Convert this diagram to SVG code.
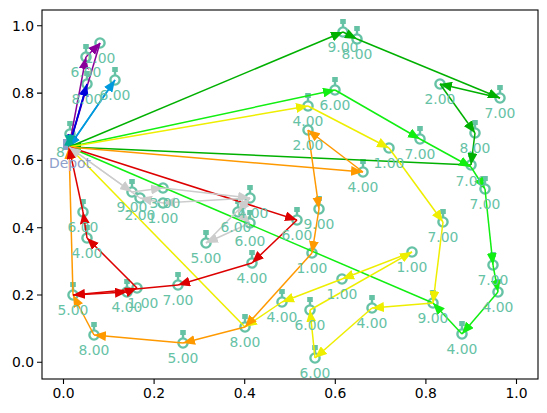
<svg xmlns="http://www.w3.org/2000/svg" width="547" height="413" viewBox="0 0 547 413">
<style>
text{font-family:"DejaVu Sans",sans-serif;font-size:13.9px}
.lb{fill:#66c2a5;text-anchor:middle}
.tk{fill:#000}
.ax{stroke:#000;stroke-width:1.1;fill:none}
.c{fill:none;stroke-width:1.5}
</style>
<defs>
<g id="nd0"><circle r="4.6" fill="none" stroke="#66c2a5" stroke-width="2.4"/></g>
<g id="nd"><circle r="4.6" fill="none" stroke="#66c2a5" stroke-width="2.4"/><rect x="-2.8" y="-13" width="5.6" height="5" fill="#66c2a5"/><rect x="-1.2" y="-9" width="2.4" height="4" fill="#66c2a5"/></g>
<marker id="mP" viewBox="0 0 12 10" refX="12" refY="5" markerWidth="12" markerHeight="10" markerUnits="userSpaceOnUse" orient="auto"><path d="M0,0L12,5L0,10z" fill="#880099"/></marker>
<marker id="mB" viewBox="0 0 12 10" refX="12" refY="5" markerWidth="12" markerHeight="10" markerUnits="userSpaceOnUse" orient="auto"><path d="M0,0L12,5L0,10z" fill="#0000dd"/></marker>
<marker id="mL" viewBox="0 0 12 10" refX="12" refY="5" markerWidth="12" markerHeight="10" markerUnits="userSpaceOnUse" orient="auto"><path d="M0,0L12,5L0,10z" fill="#0099dd"/></marker>
<marker id="mT" viewBox="0 0 12 10" refX="12" refY="5" markerWidth="12" markerHeight="10" markerUnits="userSpaceOnUse" orient="auto"><path d="M0,0L12,5L0,10z" fill="#00aa99"/></marker>
<marker id="mG" viewBox="0 0 12 10" refX="12" refY="5" markerWidth="12" markerHeight="10" markerUnits="userSpaceOnUse" orient="auto"><path d="M0,0L12,5L0,10z" fill="#00b000"/></marker>
<marker id="mH" viewBox="0 0 12 10" refX="12" refY="5" markerWidth="12" markerHeight="10" markerUnits="userSpaceOnUse" orient="auto"><path d="M0,0L12,5L0,10z" fill="#11ee11"/></marker>
<marker id="mY" viewBox="0 0 12 10" refX="12" refY="5" markerWidth="12" markerHeight="10" markerUnits="userSpaceOnUse" orient="auto"><path d="M0,0L12,5L0,10z" fill="#eeee00"/></marker>
<marker id="mO" viewBox="0 0 12 10" refX="12" refY="5" markerWidth="12" markerHeight="10" markerUnits="userSpaceOnUse" orient="auto"><path d="M0,0L12,5L0,10z" fill="#ff9900"/></marker>
<marker id="mR" viewBox="0 0 12 10" refX="12" refY="5" markerWidth="12" markerHeight="10" markerUnits="userSpaceOnUse" orient="auto"><path d="M0,0L12,5L0,10z" fill="#dd0000"/></marker>
<marker id="mS" viewBox="0 0 12 10" refX="12" refY="5" markerWidth="12" markerHeight="10" markerUnits="userSpaceOnUse" orient="auto"><path d="M0,0L12,5L0,10z" fill="#cccccc"/></marker>
</defs>
<rect width="547" height="413" fill="#fff"/>
<g id="axes">
<rect class="ax" x="42" y="10" width="496" height="369"/>
<g class="ax"><path d="M63.5,379v5M154.1,379v5M244.7,379v5M335.3,379v5M425.9,379v5M516.5,379v5M42,362.3h-5M42,295h-5M42,227.7h-5M42,160.4h-5M42,93.1h-5M42,25.8h-5"/></g>
<g class="tk" text-anchor="middle"><text x="63.5" y="398">0.0</text><text x="154.1" y="398">0.2</text><text x="244.7" y="398">0.4</text><text x="335.3" y="398">0.6</text><text x="425.9" y="398">0.8</text><text x="516.5" y="398">1.0</text></g>
<g class="tk" text-anchor="end"><text x="34" y="367.3">0.0</text><text x="34" y="300">0.2</text><text x="34" y="232.7">0.4</text><text x="34" y="165.4">0.6</text><text x="34" y="98.1">0.8</text><text x="34" y="30.8">1.0</text></g>
</g>
<g id="nodes">
<g id="n-A"><use href="#nd" x="86" y="57"/></g>
<g id="n-B"><use href="#nd0" x="100" y="43"/></g>
<g id="n-C"><use href="#nd" x="87" y="84"/></g>
<g id="n-D"><use href="#nd" x="115" y="80"/></g>
<g id="n-E"><use href="#nd" x="70" y="134"/></g>
<g id="n-F"><use href="#nd" x="343" y="32"/></g>
<g id="n-G"><use href="#nd" x="357" y="39"/></g>
<g id="n-H"><use href="#nd" x="500" y="98"/></g>
<g id="n-I"><use href="#nd0" x="440" y="84"/></g>
<g id="n-J"><use href="#nd" x="475" y="133"/></g>
<g id="n-K"><use href="#nd" x="471" y="165"/></g>
<g id="n-L"><use href="#nd" x="335" y="90"/></g>
<g id="n-M"><use href="#nd" x="420" y="139"/></g>
<g id="n-N"><use href="#nd" x="485" y="189"/></g>
<g id="n-O"><use href="#nd" x="493" y="265"/></g>
<g id="n-P"><use href="#nd" x="498" y="292"/></g>
<g id="n-Q"><use href="#nd" x="462" y="334"/></g>
<g id="n-R"><use href="#nd" x="433" y="303"/></g>
<g id="n-S"><use href="#nd" x="308" y="106"/></g>
<g id="n-T"><use href="#nd0" x="389" y="148"/></g>
<g id="n-U"><use href="#nd" x="443" y="222"/></g>
<g id="n-V"><use href="#nd" x="372" y="308"/></g>
<g id="n-W"><use href="#nd" x="315" y="358"/></g>
<g id="n-X"><use href="#nd" x="310" y="310"/></g>
<g id="n-Y"><use href="#nd0" x="412" y="252"/></g>
<g id="n-Z"><use href="#nd0" x="342" y="279"/></g>
<g id="n-AA"><use href="#nd" x="282" y="302"/></g>
<g id="n-BB"><use href="#nd" x="245" y="327"/></g>
<g id="n-CC"><use href="#nd" x="363" y="172"/></g>
<g id="n-DD"><use href="#nd0" x="308" y="130"/></g>
<g id="n-EE"><use href="#nd" x="319" y="209"/></g>
<g id="n-FF"><use href="#nd0" x="312" y="253"/></g>
<g id="n-GG"><use href="#nd" x="183" y="343"/></g>
<g id="n-HH"><use href="#nd" x="94" y="335"/></g>
<g id="n-II"><use href="#nd" x="73" y="295"/></g>
<g id="n-JJ"><use href="#nd" x="297" y="220"/></g>
<g id="n-KK"><use href="#nd" x="252" y="263"/></g>
<g id="n-LL"><use href="#nd" x="178" y="285"/></g>
<g id="n-Q1"><use href="#nd0" x="137" y="288"/></g>
<g id="n-Q2"><use href="#nd" x="127" y="292"/></g>
<g id="n-NN"><use href="#nd" x="87" y="238"/></g>
<g id="n-OO"><use href="#nd" x="83" y="212"/></g>
<g id="n-RR"><use href="#nd" x="132" y="192"/></g>
<g id="n-SS"><use href="#nd0" x="163" y="188"/></g>
<g id="n-TT"><use href="#nd0" x="140" y="198"/></g>
<g id="n-UU"><use href="#nd0" x="163" y="203"/></g>
<g id="n-VV"><use href="#nd" x="250" y="198"/></g>
<g id="n-WW"><use href="#nd" x="238" y="212"/></g>
<g id="n-XX"><use href="#nd" x="250" y="223"/></g>
<g id="n-YY"><use href="#nd" x="206" y="243"/></g>
<g id="depot"><rect x="63" y="139" width="11" height="11" fill="#8da0cb"/></g>
</g>
<g id="connectors" class="c">
<g stroke="#880099" marker-end="url(#mP)"><line x1="69" y1="147" x2="86" y2="57"/><line x1="86" y1="57" x2="100" y2="43"/><line x1="100" y1="43" x2="69" y2="147"/></g>
<g stroke="#0000dd" marker-end="url(#mB)"><line x1="69" y1="147" x2="87" y2="84"/><line x1="87" y1="84" x2="69" y2="147"/></g>
<g stroke="#0099dd" marker-end="url(#mL)"><line x1="69" y1="147" x2="115" y2="80"/><line x1="115" y1="80" x2="69" y2="147"/></g>
<g stroke="#00aa99" marker-end="url(#mT)"><line x1="69" y1="147" x2="70" y2="134"/><line x1="70" y1="134" x2="69" y2="147"/></g>
<g stroke="#00b000" marker-end="url(#mG)"><line x1="69" y1="147" x2="343" y2="32"/><line x1="343" y1="32" x2="357" y2="39"/><line x1="357" y1="39" x2="500" y2="98"/><line x1="500" y1="98" x2="440" y2="84"/><line x1="440" y1="84" x2="475" y2="133"/><line x1="475" y1="133" x2="471" y2="165"/><line x1="471" y1="165" x2="69" y2="147"/></g>
<g stroke="#11ee11" marker-end="url(#mH)"><line x1="69" y1="147" x2="335" y2="90"/><line x1="335" y1="90" x2="420" y2="139"/><line x1="420" y1="139" x2="471" y2="167"/><line x1="471" y1="167" x2="485" y2="189"/><line x1="485" y1="189" x2="493" y2="265"/><line x1="493" y1="265" x2="498" y2="292"/><line x1="498" y1="292" x2="462" y2="334"/><line x1="462" y1="334" x2="433" y2="303"/><line x1="433" y1="303" x2="69" y2="147"/></g>
<g stroke="#eeee00" marker-end="url(#mY)"><line x1="69" y1="147" x2="308" y2="106"/><line x1="308" y1="106" x2="389" y2="148"/><line x1="389" y1="148" x2="443" y2="222"/><line x1="443" y1="222" x2="433" y2="303"/><line x1="433" y1="303" x2="372" y2="308"/><line x1="372" y1="308" x2="315" y2="358"/><line x1="315" y1="358" x2="310" y2="310"/><line x1="310" y1="310" x2="412" y2="252"/><line x1="412" y1="252" x2="342" y2="279"/><line x1="342" y1="279" x2="282" y2="302"/><line x1="282" y1="302" x2="245" y2="327"/><line x1="245" y1="327" x2="69" y2="147"/></g>
<g stroke="#ff9900" marker-end="url(#mO)"><line x1="69" y1="147" x2="363" y2="172"/><line x1="363" y1="172" x2="308" y2="130"/><line x1="308" y1="130" x2="319" y2="209"/><line x1="319" y1="209" x2="312" y2="253"/><line x1="312" y1="253" x2="245" y2="327"/><line x1="245" y1="327" x2="183" y2="343"/><line x1="183" y1="343" x2="94" y2="335"/><line x1="94" y1="335" x2="73" y2="295"/><line x1="73" y1="295" x2="69" y2="147"/></g>
<g stroke="#dd0000" marker-end="url(#mR)"><line x1="69" y1="147" x2="297" y2="220"/><line x1="297" y1="220" x2="252" y2="263"/><line x1="252" y1="263" x2="178" y2="285"/><line x1="178" y1="285" x2="73" y2="295"/><line x1="73" y1="295" x2="127" y2="292"/><line x1="127" y1="292" x2="137" y2="288"/><line x1="137" y1="288" x2="87" y2="238"/><line x1="87" y1="238" x2="83" y2="212"/><line x1="83" y1="212" x2="69" y2="147"/></g>
<g stroke="#cccccc" marker-end="url(#mS)"><line x1="69" y1="147" x2="132" y2="192"/><line x1="132" y1="192" x2="163" y2="188"/><line x1="163" y1="188" x2="250" y2="198"/><line x1="250" y1="198" x2="238" y2="212"/><line x1="238" y1="212" x2="250" y2="223"/><line x1="250" y1="223" x2="206" y2="243"/><line x1="206" y1="243" x2="250" y2="198"/><line x1="250" y1="198" x2="163" y2="203"/><line x1="163" y1="203" x2="140" y2="198"/><line x1="140" y1="198" x2="69" y2="147"/></g>
</g>
<g id="labels">
<text class="lb" x="86" y="77">6.00</text><text class="lb" x="100" y="63">1.00</text><text class="lb" x="87" y="104">8.00</text><text class="lb" x="115" y="100">6.00</text>
<text x="56" y="157" fill="#66c2a5">8</text>
<text class="lb" x="343" y="52">9.00</text><text class="lb" x="357" y="59">8.00</text><text class="lb" x="500" y="118">7.00</text><text class="lb" x="440" y="104">2.00</text><text class="lb" x="475" y="153">8.00</text><text class="lb" x="471" y="186">7.00</text>
<text class="lb" x="335" y="110">6.00</text><text class="lb" x="420" y="159">7.00</text><text class="lb" x="485" y="209">7.00</text><text class="lb" x="493" y="285">7.00</text><text class="lb" x="498" y="312">4.00</text><text class="lb" x="462" y="354">4.00</text><text class="lb" x="433" y="323">9.00</text>
<text class="lb" x="308" y="126">4.00</text><text class="lb" x="389" y="168">1.00</text><text class="lb" x="443" y="242">7.00</text><text class="lb" x="372" y="328">4.00</text><text class="lb" x="315" y="378">6.00</text><text class="lb" x="310" y="330">6.00</text><text class="lb" x="412" y="272">1.00</text><text class="lb" x="342" y="299">1.00</text><text class="lb" x="282" y="322">4.00</text><text class="lb" x="245" y="347">8.00</text>
<text class="lb" x="363" y="192">4.00</text><text class="lb" x="308" y="150">2.00</text><text class="lb" x="319" y="229">9.00</text><text class="lb" x="312" y="273">1.00</text><text class="lb" x="183" y="363">5.00</text><text class="lb" x="94" y="355">8.00</text><text class="lb" x="73" y="315">5.00</text>
<text class="lb" x="297" y="240">6.00</text><text class="lb" x="252" y="283">4.00</text><text class="lb" x="178" y="305">7.00</text><text class="lb" x="143" y="308">1.00</text><text class="lb" x="127" y="312">4.00</text><text class="lb" x="87" y="258">4.00</text><text class="lb" x="83" y="232">6.00</text>
<text class="lb" x="132" y="212">9.00</text><text class="lb" x="165" y="208">3.00</text><text class="lb" x="140" y="220">2.00</text><text class="lb" x="163" y="223">1.00</text><text class="lb" x="253" y="218">4.00</text><text class="lb" x="236" y="232">6.00</text><text class="lb" x="250" y="246">6.00</text><text class="lb" x="206" y="263">5.00</text>
<text x="70" y="168" fill="#8da0cb" text-anchor="middle">Depot</text>
</g>
</svg>
